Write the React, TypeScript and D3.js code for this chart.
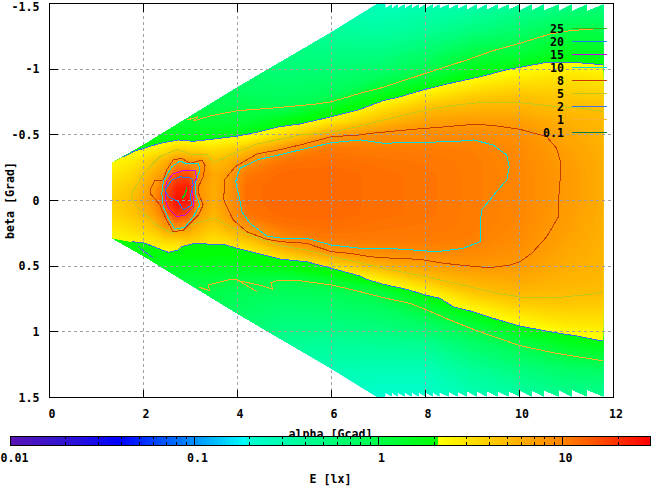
import React from 'react';
import * as d3 from 'd3';

const xTicks = [0, 2, 4, 6, 8, 10, 12];
const yTicks = [-1.5, -1, -0.5, 0, 0.5, 1, 1.5];
const yTickLabels = ['-1.5', '-1', '-0.5', '0', '0.5', '1', '1.5'];
const cbMajor = [0.01, 0.1, 1, 10];
const cbMajorLabels = ['0.01', '0.1', '1', '10'];
const cbMinor = [0.02, 0.03, 0.04, 0.05, 0.06, 0.07, 0.08, 0.09, 0.2, 0.3, 0.4, 0.5, 0.6, 0.7, 0.8, 0.9, 2, 3, 4, 5, 6, 7, 8, 9, 20];

// palette stops, log10(E) -> colour
const paletteLog = [-2, -1.7, -1.4, -1, -0.72, -0.7, 0, 0.333, 0.336, 1, 1.477];
const paletteColor = ['#5a14b4', '#3214d2', '#0000ff', '#0090ff', '#00ffff', '#00ffd2', '#00ff48', '#00ff00', '#ffff00', '#ff8400', '#ff0000'];

// sample grid of the field
const gridAlpha = [1.3, 1.8, 2.2, 2.45, 2.7, 2.95, 3.2, 3.5, 3.8, 4.2, 5, 6, 7, 8, 9, 10, 11, 11.8];
const gridBeta = [-1.5, -1.3, -1.1, -0.95, -0.8, -0.7, -0.6, -0.5, -0.4, -0.3, -0.2, -0.1, 0, 0.1, 0.2, 0.3, 0.4, 0.5, 0.6, 0.7, 0.8, 0.95, 1.1, 1.3, 1.5];
const energy = [
  [.5, .5, .6, .7, .8, .9, 1, 1.2, 1.6, 2.3, 2.8, 3.4, 3.8, 3.5, 2.9, 2.3, 1.6, 1.2, 1, .9, .8, .7, .6, .5, .5],
  [.6, .6, .7, .8, .9, 1, 1.2, 1.5, 2, 2.8, 3.6, 4.4, 4.9, 4.5, 3.6, 2.6, 1.9, 1.4, 1.2, 1, .9, .8, .7, .6, .6],
  [.6, .6, .7, .8, .9, 1.05, 1.3, 1.6, 2.4, 4.2, 5.8, 7.5, 8.6, 7, 4.6, 3, 2.1, 1.5, 1.2, 1, .9, .8, .7, .6, .6],
  [.6, .6, .7, .8, .9, 1.05, 1.3, 1.7, 2.7, 5.5, 8, 13, 16, 11.5, 7.5, 3.7, 2.1, 1.5, 1.2, 1, .9, .8, .7, .6, .6],
  [.6, .6, .7, .8, .9, 1.05, 1.3, 1.7, 3.5, 8, 15, 22, 26, 20, 8.5, 3.8, 2.2, 1.6, 1.2, 1, .9, .8, .7, .6, .6],
  [.6, .6, .7, .8, .9, 1.05, 1.3, 1.7, 3.3, 7.5, 16, 24, 26, 16, 7.5, 4.2, 2.2, 1.6, 1.2, 1, .9, .8, .7, .6, .6],
  [.6, .6, .7, .8, .9, 1.05, 1.3, 1.7, 3.2, 7.5, 9.5, 8, 8.6, 7.5, 5.5, 3.8, 2.2, 1.6, 1.2, 1, .9, .8, .7, .6, .6],
  [.55, .6, .7, .8, .9, 1, 1.3, 1.7, 3.1, 5, 6.2, 6, 6, 5.4, 4.5, 3.2, 2.1, 1.6, 1.2, 1, .9, .8, .7, .6, .55],
  [.5, .55, .65, .75, .9, 1, 1.3, 1.75, 3.5, 5.6, 7.3, 8, 8, 7.8, 5.8, 3.6, 2.1, 1.6, 1.15, .95, .85, .7, .6, .55, .5],
  [.45, .5, .6, .7, .85, 1.05, 1.3, 1.8, 4.5, 8.2, 11, 12, 12, 11.5, 8.2, 4.6, 2.5, 1.7, 1.1, .9, .8, .65, .55, .45, .4],
  [.35, .45, .55, .65, .8, .95, 1.9, 3.4, 7.8, 11.5, 12.5, 12.5, 12.5, 12.5, 11.5, 9, 4.5, 2, 1.05, .85, .7, .55, .42, .32, .28],
  [.3, .4, .55, .7, .9, 1.7, 2.9, 7, 11, 12, 12.5, 12.5, 12.5, 12.5, 12, 10.8, 7.8, 3.4, 1.4, .9, .75, .55, .4, .3, .25],
  [.27, .36, .55, .8, 1.7, 3, 5, 8.6, 10.6, 11.5, 12, 12, 12, 12, 11.5, 10.8, 9, 5.4, 2.6, 1.1, .85, .6, .42, .28, .22],
  [.3, .42, .75, 1.1, 2.8, 4.8, 7, 9, 10.6, 11.2, 11.5, 11.5, 11.5, 11.5, 11.2, 10.8, 9.5, 6.8, 4.6, 2.4, 1.4, .75, .45, .28, .22],
  [.32, .55, 1.2, 2, 3.9, 5.5, 7.5, 9.2, 10.4, 10.7, 10.7, 10.7, 10.7, 10.7, 10.7, 10.4, 9.4, 8, 5.8, 4.4, 2.7, 1.2, .7, .4, .3],
  [.4, .7, 1.3, 2.6, 4.5, 5.6, 7.2, 8.5, 9.2, 9.5, 9.7, 9.7, 9.7, 9.7, 9.5, 9, 8.4, 7.5, 6.4, 5.3, 3.9, 2.1, 1, .55, .35],
  [.5, 1, 1.8, 3, 4.2, 5, 5.8, 6.5, 7, 7.4, 7.6, 7.6, 7.6, 7.4, 7.2, 6.8, 6.4, 6, 5.6, 5, 4.2, 2.8, 1.5, .7, .45],
  [.55, 1, 1.7, 2.7, 4, 4.9, 5.2, 5.5, 5.7, 5.9, 6, 6, 6, 5.9, 5.8, 5.7, 5.6, 5.4, 5.2, 5, 4.1, 2.9, 1.8, .75, .45],
];

// outline of the measured area
const edgeDiagonal: [number, number][] = [[1.33, .286], [2, .42], [2.36, .5], [4, .86], [6, 1.28], [6.95, 1.49]];
const toothEnds = [7.14, 7.28, 7.4, 7.55, 7.7, 7.85, 8, 8.15, 8.29, 8.49, 8.68, 8.88, 9.09, 9.3, 9.53, 9.76, 10.01, 10.26, 10.52, 10.83, 11.11, 11.43, 11.78];
const toothDepths = [.03, .03, .03, .03, .03, .03, .03, .03, .03, .035, .035, .04, .04, .04, .04, .04, .045, .045, .045, .05, .05, .05, .05];

// contour lines, [alpha, beta]
const line1Upper: [number, number][] = [[2.93, -.613], [3.17, -.638], [3.06, -.605], [3.41, -.643], [4, -.684], [4.69, -.702], [5.61, -.732], [6, -.752], [6.61, -.816], [7.1, -.862], [8, -.968], [8.88, -1.07], [9.44, -1.141], [10.01, -1.197], [10.65, -1.268], [11.07, -1.293], [11.77, -1.311]];
const line1Lower: [number, number][] = [[3.19, .661], [3.41, .687], [3.38, .643], [3.8, .605], [4, .605], [4.41, .694], [4.02, .61], [4.55, .651], [4.75, .676], [4.71, .626], [4.87, .608], [5.26, .608], [6, .643], [6.61, .694], [7.1, .74], [7.67, .783], [8, .829], [8.52, .91], [9.09, .991], [10.01, 1.105], [10.79, 1.164], [11.77, 1.22]];
const line2Upper: [number, number][] = [[1.557, -.329], [1.783, -.372], [2, -.397], [2.35, -.435], [2.74, -.461], [3.06, -.451], [3.49, -.468], [4, -.491], [4.41, -.519], [4.87, -.56], [5.33, -.583], [6, -.638], [6.61, -.694], [6.75, -.714], [7.1, -.76], [7.46, -.79], [8, -.847], [8.52, -.892], [9.23, -.948], [9.76, -.999], [10.01, -1.014], [10.58, -1.052], [11.07, -1.052], [11.43, -1.045], [11.77, -1.032]];
const line2Lower: [number, number][] = [[1.75, .314], [2, .321], [2.53, .395], [2.74, .377], [2.81, .352], [3.06, .329], [3.7, .334], [4, .364], [4.41, .402], [4.94, .448], [5.47, .466], [6, .516], [6.61, .575], [6.75, .6], [7.1, .638], [7.6, .676], [8, .72], [8.31, .745], [8.59, .809], [9.02, .847], [9.37, .89], [10.01, .956], [10.65, .999], [11.22, 1.032], [11.77, 1.07]];
const line2Strand: [number, number][] = [[1.89, .352], [2.21, .44]];
const line5: [number, number][] = [[1.855, .047], [1.76, -.004], [1.75, -.055], [2, -.207], [2.35, -.334], [2.72, -.39], [2.99, -.354], [3.34, -.354], [3.49, -.288], [4, -.372], [4.41, -.43], [4.9, -.466], [5.33, -.499], [6, -.519], [6.61, -.567], [7.1, -.613], [8, -.689], [8.66, -.727], [9.23, -.748], [9.94, -.748], [10.65, -.72], [11.36, -.702], [11.77, -.676]];
const line5Lower: [number, number][] = [[1.855, .047], [2, .097], [2.28, .187], [2.6, .25], [2.99, .187], [3.49, .136], [4, .225], [4.48, .295], [4.94, .346], [5.47, .377], [6, .428], [6.61, .474], [7.1, .516], [8, .58], [8.88, .651], [9.51, .707], [10.08, .737], [10.86, .737], [11.36, .72], [11.77, .699]];
const line8Main: [number, number][] = [[3.71, -.004], [3.72, -.156], [3.95, -.257], [4.41, -.354], [4.94, -.39], [5.33, -.423], [6, -.486], [6.61, -.499], [6.82, -.511], [7.74, -.542], [8.45, -.562], [9.02, -.58], [9.44, -.572], [10.01, -.542], [10.58, -.486], [10.79, -.397], [10.88, -.283], [10.86, -.131], [10.83, -.004], [10.83, .123], [10.58, .276], [10.26, .402], [10.01, .466], [9.8, .491], [9.37, .512], [8.95, .499], [8.38, .478], [7.88, .448], [7.32, .44], [6.82, .428], [6.39, .402], [6, .39], [5.47, .326], [4.94, .314], [4.62, .295], [4.2, .238], [3.91, .148], [3.77, .047], [3.71, -.004]];
const line8Blob: [number, number][] = [[2.14, -.08], [2.24, -.151], [2.42, -.151], [2.49, -.232], [2.63, -.308], [2.81, -.321], [2.99, -.283], [3.24, -.308], [3.31, -.27], [3.27, -.181], [3.17, -.105], [3.17, -.055], [3.27, .034], [3.17, .11], [3.03, .161], [2.85, .225], [2.63, .238], [2.49, .148], [2.35, .034], [2.14, -.055], [2.14, -.08]];
const line10Main: [number, number][] = [[4.05, -.004], [3.96, -.143], [4.05, -.245], [4.41, -.308], [4.94, -.352], [5.33, -.385], [6, -.44], [6.61, -.461], [7.1, -.436], [7.88, -.443], [8.59, -.448], [9.02, -.461], [9.44, -.423], [9.73, -.346], [9.78, -.257], [9.73, -.156], [9.51, -.067], [9.37, -.004], [9.19, .072], [9.16, .225], [9.16, .314], [8.8, .364], [8.24, .39], [7.74, .377], [7.17, .364], [6.61, .364], [6, .339], [5.47, .288], [4.94, .288], [4.62, .27], [4.27, .174], [4.09, .085], [4.05, -.004]];
const line10Blob: [number, number][] = [[2.39, -.055], [2.42, -.143], [2.6, -.257], [2.78, -.301], [2.92, -.278], [3.17, -.278], [3.2, -.232], [3.1, -.131], [3.1, -.055], [3.2, .034], [3.06, .123], [2.88, .204], [2.67, .219], [2.53, .136], [2.42, .047], [2.39, -.055]];
const line15: [number, number][] = [[2.46, -.067], [2.49, -.143], [2.63, -.202], [2.88, -.232], [3.1, -.227], [3.13, -.169], [3.03, -.105], [3.06, -.017], [3.06, .047], [2.88, .11], [2.71, .123], [2.53, .059], [2.46, -.004], [2.46, -.067]];
const line20: [number, number][] = [[2.46, -.08], [2.6, -.156], [2.78, -.181], [3.03, -.169], [3.06, -.118], [2.99, -.029], [3.03, .034], [2.85, .072], [2.74, .009], [2.53, -.029], [2.46, -.08]];
const line25: [number, number][] = [[2.82, -.017], [2.88, -.055], [2.92, -.1], [2.9, -.055], [2.84, -.017], [2.82, -.017]];

const legendLabels = ['25', '20', '15', '10', '8', '5', '2', '1', '0.1'];
const legendColors = ['#30b818', '#2080f0', '#c800f0', '#00e0e0', '#c83c00', '#c4c81c', '#4070e8', '#ffb428', '#008040'];

const font = '"DejaVu Sans Mono", monospace';
const WIDTH = 651;
const HEIGHT = 486;

const xScale = d3.scaleLinear([0, 12], [49.5, 613.5]);
const yScale = d3.scaleLinear([-1.5, 1.5], [3.5, 397.5]);
const cbScale = d3.scaleLinear([-2, 1.477], [10, 650]);
const colorOf = d3.scaleLinear<string>().domain(paletteLog).range(paletteColor).clamp(true);

// grid index -> data, the sample rows are not evenly spaced
const alphaOfIndex = d3.scaleLinear(d3.range(gridAlpha.length), gridAlpha);
const betaOfIndex = d3.scaleLinear(d3.range(gridBeta.length), gridBeta);

const logValues: number[] = [];
gridBeta.forEach((_, j) => gridAlpha.forEach((_, i) => logValues.push(Math.log10(energy[i][j]))));

const projection = d3.geoTransform({
  point(x: number, y: number) {
    (this as any).stream.point(xScale(alphaOfIndex(x - 0.5)), yScale(betaOfIndex(y - 0.5)));
  },
});
const contourPath = d3.geoPath(projection);
const bands = (from: number, to: number, n: number) =>
  d3.contours().size([gridAlpha.length, gridBeta.length]).thresholds(d3.range(n).map((k) => from + ((to - from) * k) / n))(logValues);

const outerBands = bands(-0.8, 0.333, 40);
const innerBands = bands(0.336, 1.477, 70);

const linePath = d3.line<[number, number]>().x((d) => xScale(d[0])).y((d) => yScale(d[1]));

const domainOutline = (): [number, number][] => {
  const teeth = (sign: number) => {
    const out: [number, number][] = [];
    toothEnds.forEach((a, i) => {
      out.push([a, sign * 1.49]);
      out.push([a, sign * (1.49 - toothDepths[i])]);
    });
    return out;
  };
  const upper: [number, number][] = [...edgeDiagonal.map((d): [number, number] => [d[0], -d[1]]), ...teeth(-1)];
  const lower: [number, number][] = [...edgeDiagonal, ...teeth(1)];
  return [...upper, ...lower.reverse()];
};

const innerOutline = (): [number, number][] => [
  [1.2, -.27],
  ...line2Upper,
  [11.9, -1.03],
  [11.9, 1.07],
  ...[...line2Lower].reverse(),
  [1.2, .28],
];

const contourLines: { pts: [number, number][]; color: string }[] = [
  { pts: line1Upper, color: legendColors[7] },
  { pts: line1Lower, color: legendColors[7] },
  { pts: line5, color: legendColors[5] },
  { pts: line5Lower, color: legendColors[5] },
  { pts: line2Upper, color: legendColors[6] },
  { pts: line2Lower, color: legendColors[6] },
  { pts: line2Strand, color: legendColors[6] },
  { pts: line8Main, color: legendColors[4] },
  { pts: line8Blob, color: legendColors[4] },
  { pts: line10Main, color: legendColors[3] },
  { pts: line10Blob, color: legendColors[3] },
  { pts: line15, color: legendColors[2] },
  { pts: line20, color: legendColors[1] },
  { pts: line25, color: legendColors[0] },
];

const App: React.FC = () => {
  const txt = { fontFamily: font, fontSize: 11.6, fontWeight: 700, fill: '#000' } as const;
  const cbSteps = d3.range(0, 640, 4);
  return (
    <svg width={WIDTH} height={HEIGHT} style={{ position: 'absolute', left: 0, top: 0, background: '#fff' }}>
      <defs>
        <clipPath id="domain"><path d={linePath(domainOutline()) + 'Z'} /></clipPath>
        <clipPath id="inner"><path d={linePath(innerOutline()) + 'Z'} /></clipPath>
      </defs>

      <g clipPath="url(#domain)">
        <rect x={49} y={3} width={565} height={395} fill={colorOf(-0.7)} />
        {outerBands.map((c, i) => (
          <path key={i} d={contourPath(c as any) || ''} fill={colorOf(c.value)} />
        ))}
        <g clipPath="url(#inner)">
          <rect x={49} y={3} width={565} height={395} fill="#ffff00" />
          {innerBands.map((c, i) => (
            <path key={i} d={contourPath(c as any) || ''} fill={colorOf(c.value + 0.008)} />
          ))}
        </g>
      </g>

      {/* grid */}
      {xTicks.slice(1, -1).map((t) => (
        <line key={t} x1={xScale(t)} x2={xScale(t)} y1={3.5} y2={397.5} stroke="#a0a0a0" strokeDasharray="3 3" shapeRendering="crispEdges" />
      ))}
      {yTicks.slice(1, -1).map((t) => (
        <line key={t} x1={49.5} x2={613.5} y1={yScale(t)} y2={yScale(t)} stroke="#a0a0a0" strokeDasharray="3 3" shapeRendering="crispEdges" />
      ))}

      {contourLines.map((l, i) => (
        <path key={i} d={linePath(l.pts) || ''} fill="none" stroke={l.color} strokeWidth={1} shapeRendering="crispEdges" />
      ))}

      {/* axes */}
      {xTicks.map((t) => (
        <g key={t}>
          <line x1={xScale(t)} x2={xScale(t)} y1={397.5} y2={389.5} stroke="#000" shapeRendering="crispEdges" />
          <line x1={xScale(t)} x2={xScale(t)} y1={3.5} y2={11.5} stroke="#000" shapeRendering="crispEdges" />
          <text x={xScale(t) + 2.5} y={417.5} textAnchor="middle" {...txt}>{t}</text>
        </g>
      ))}
      {yTicks.map((t, i) => (
        <g key={t}>
          <line x1={49.5} x2={57.5} y1={yScale(t)} y2={yScale(t)} stroke="#000" shapeRendering="crispEdges" />
          <text x={39.5} y={i === 0 ? 11 : yScale(t) + 4} textAnchor="end" {...txt}>{yTickLabels[i]}</text>
        </g>
      ))}
      <rect x={49.5} y={3.5} width={564} height={394} fill="none" stroke="#000" shapeRendering="crispEdges" />

      <text x={330.5} y={438} textAnchor="middle" {...txt}>alpha [Gcad]</text>
      <text transform="translate(14,200.5) rotate(-90)" textAnchor="middle" {...txt}>beta [Grad]</text>

      {/* legend */}
      {legendLabels.map((l, i) => (
        <g key={l}>
          <text x={564} y={32.5 + i * 13} textAnchor="end" {...txt}>{l}</text>
          <line x1={572} x2={607} y1={28.5 + i * 13} y2={28.5 + i * 13} stroke={legendColors[i]} shapeRendering="crispEdges" />
        </g>
      ))}

      {/* colour box */}
      {cbSteps.map((s) => (
        <rect key={s} x={10 + s} y={436} width={4.5} height={10} fill={colorOf(cbScale.invert(10 + s + 2))} shapeRendering="crispEdges" />
      ))}
      {cbMinor.map((t) => {
        const x = Math.round(cbScale(Math.log10(t))) + 0.5;
        return (
          <g key={t}>
            <line x1={x} x2={x} y1={436} y2={439} stroke="#000" shapeRendering="crispEdges" />
            <line x1={x} x2={x} y1={442} y2={445} stroke="#000" shapeRendering="crispEdges" />
          </g>
        );
      })}
      {cbMajor.map((t, i) => {
        const x = Math.round(cbScale(Math.log10(t))) + 0.5;
        return (
          <g key={t}>
            <line x1={x} x2={x} y1={436} y2={445} stroke="#000" shapeRendering="crispEdges" />
            <text x={i === 0 ? 14.5 : x + 3} y={462} textAnchor="middle" {...txt}>{cbMajorLabels[i]}</text>
          </g>
        );
      })}
      <rect x={10.5} y={436.5} width={639.5} height={9} fill="none" stroke="#000" shapeRendering="crispEdges" />
      <text x={330.5} y={483} textAnchor="middle" {...txt}>E [lx]</text>
    </svg>
  );
};

export default App;
